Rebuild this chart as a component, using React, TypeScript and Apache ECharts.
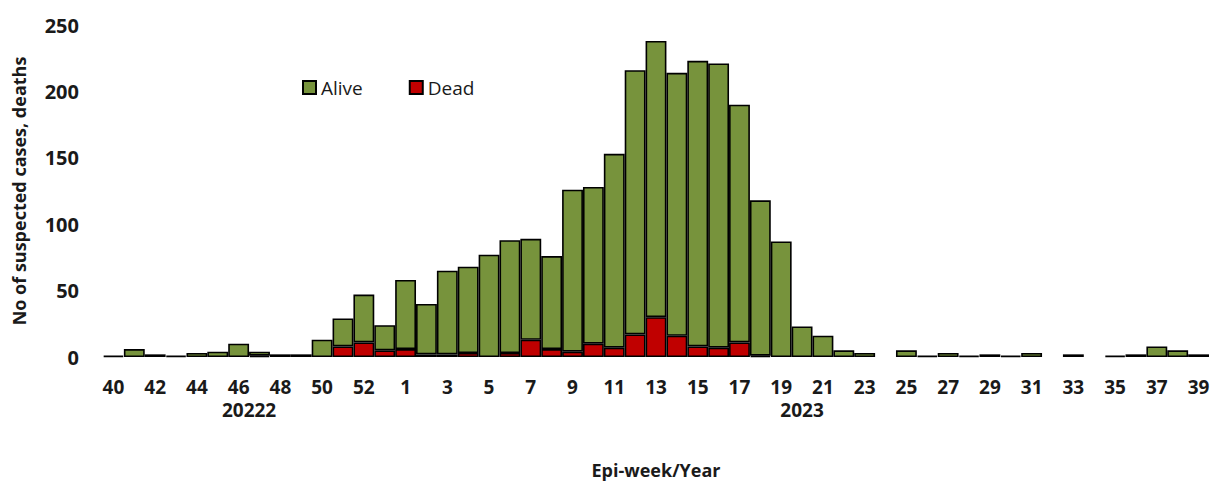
import React, { useEffect, useRef } from "react";
import * as echarts from "echarts";

// Epi-weeks: 40–53 of 2022, then 1–39 of 2023
const weeks2022 = ["40", "41", "42", "43", "44", "45", "46", "47", "48", "49", "50", "51", "52", "53"];
const weeks2023 = Array.from({ length: 39 }, (_, i) => String(i + 1));
const weeks = [...weeks2022, ...weeks2023];

const yearLabels = ["20222", "2023"];

// Suspected cases that survived (null = no cases reported that week)
const alive2022 = [1, 6, 2, 1, 3, 4, 10, 3, 2, 2, 13, 21, 36, 19];
const alive2023 = [
  52, 38, 63, 65, 77, 85, 76, 70, 122, 118, 146, 199, 208, 198, 215, 214, 179, 117, 87, 23,
  16, 5, 3, null, 5, 1, 3, 1, 2, 1, 3, null, 2, null, 1, 2, 8, 5, 2,
];

// Deaths among suspected cases
const dead2022 = [null, null, null, null, null, null, null, 1, null, null, null, 8, 11, 5];
const dead2023 = [
  6, 2, 2, 3, null, 3, 13, 6, 4, 10, 7, 17, 30, 16, 8, 7, 11, 1, null, null,
  null, null, null, null, null, null, null, null, null, null, null, null, null, null, null, null, null, null, null,
];

const alive = [...alive2022, ...alive2023];
const dead = [...dead2022, ...dead2023];

const FONT = "'Open Sans', 'Noto Sans', sans-serif";
const INK = "#1a1a1a";

export default function App() {
  const ref = useRef<HTMLDivElement>(null);

  useEffect(() => {
    if (!ref.current) return;
    const chart = echarts.init(ref.current, null, { renderer: "svg" });

    chart.setOption({
      animation: false,
      backgroundColor: "#ffffff",
      textStyle: { fontFamily: FONT },
      grid: { left: 103, right: 4, top: 25, bottom: 125.5 },
      legend: {
        left: 297,
        top: 73,
        itemWidth: 13,
        itemHeight: 13,
        itemGap: 46,
        icon: "rect",
        data: ["Alive", "Dead"],
        itemStyle: { borderColor: "#000", borderWidth: 2 },
        textStyle: { fontFamily: FONT, fontSize: 19, color: INK },
      },
      xAxis: {
        type: "category",
        data: weeks,
        axisLine: { show: false },
        axisTick: { show: false },
        axisLabel: {
          interval: 1,
          margin: 20,
          fontFamily: FONT,
          fontSize: 19,
          fontWeight: "bold",
          color: INK,
        },
        name: "Epi-week/Year",
        nameLocation: "middle",
        nameGap: 104,
        nameTextStyle: { fontFamily: FONT, fontSize: 18, fontWeight: "bold", color: INK },
      },
      yAxis: {
        type: "value",
        min: 0,
        max: 250,
        interval: 50,
        axisLine: { show: false },
        axisTick: { show: false },
        splitLine: { show: false },
        axisLabel: {
          margin: 24,
          fontFamily: FONT,
          fontSize: 20,
          fontWeight: "bold",
          color: INK,
        },
        name: "No of suspected cases, deaths",
        nameLocation: "middle",
        nameGap: 75,
        nameTextStyle: { fontFamily: FONT, fontSize: 18, fontWeight: "bold", color: INK },
      },
      series: [
        {
          name: "Dead",
          type: "bar",
          stack: "cases",
          data: dead,
          barCategoryGap: 0,
          itemStyle: { color: "#C00000", borderColor: "#000", borderWidth: 1.6 },
        },
        {
          name: "Alive",
          type: "bar",
          stack: "cases",
          data: alive,
          barCategoryGap: 0,
          itemStyle: { color: "#77933C", borderColor: "#000", borderWidth: 1.6 },
        },
      ],
    });

    // Year labels centred under each year's block of weeks
    const px = (i: number) => chart.convertToPixel({ xAxisIndex: 0 }, i) as number;
    const n22 = weeks2022.length;
    const c2022 = (px(0) + px(n22 - 1)) / 2;
    const c2023 = (px(n22) + px(weeks.length - 1)) / 2;
    const yearY = 410;
    chart.setOption({
      graphic: [c2022, c2023].map((x, k) => ({
        type: "text",
        x,
        y: yearY,
        style: {
          text: yearLabels[k],
          fontFamily: FONT,
          fontSize: 19,
          fontWeight: "bold",
          fill: INK,
          align: "center",
          verticalAlign: "middle",
        },
      })),
    });

    return () => chart.dispose();
  }, []);

  return (
    <div
      ref={ref}
      style={{ position: "fixed", left: 0, top: 0, width: 1213, height: 484 }}
    />
  );
}
